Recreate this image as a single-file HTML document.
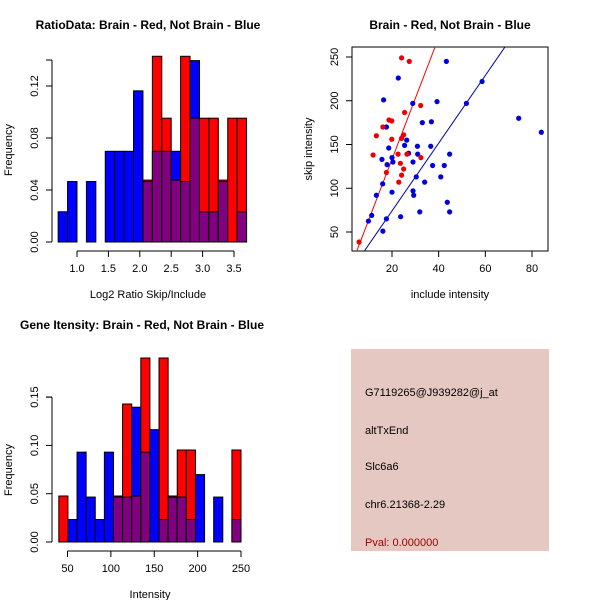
<!DOCTYPE html>
<html><head><meta charset="utf-8"><style>
body{margin:0;background:#fff}
svg{display:block;font-family:"Liberation Sans",Arial,sans-serif}
</style></head><body>
<svg id="s" width="600" height="600" viewBox="0 0 600 600">
<rect width="600" height="600" fill="#fff"/>
<text x="148" y="29" font-size="12" font-weight="bold" text-anchor="middle">RatioData: Brain - Red, Not Brain - Blue</text>
<text x="450" y="29" font-size="12" font-weight="bold" text-anchor="middle">Brain - Red, Not Brain - Blue</text>
<text x="142" y="329" font-size="12" font-weight="bold" text-anchor="middle">Gene Itensity: Brain - Red, Not Brain - Blue</text>
<g id="g1"></g>
<g id="g2"></g>
<g id="g3"></g>
<g>
<rect x="351" y="349" width="198" height="202" fill="#e6c8c2"/>
<text x="365" y="396" font-size="11">G7119265@J939282@j_at</text>
<text x="365" y="434" font-size="11">altTxEnd</text>
<text x="365" y="470" font-size="11">Slc6a6</text>
<text x="365" y="508" font-size="11">chr6.21368-2.29</text>
<text x="365" y="546" font-size="11" fill="#a00000">Pval: 0.000000</text>
</g>
</svg>
<script>
// ratio histogram data (counts)
const ratioBinStart = 0.70, ratioBinWidth = 0.15;
const ratioBlue = [1,2,0,2,0,3,3,3,5,2,3,3,3,2,6,1,1,2,0,1];
const ratioRed  = [0,0,0,0,0,0,0,0,0,1,3,2,1,3,2,2,2,1,2,2];
const ratioXTicks = [1.0,1.5,2.0,2.5,3.0,3.5];
const ratioYTicks = [0,0.04,0.08,0.12];
// intensity histogram data (counts)
const intBinStart = 40, intBinWidth = 10.5;
const intBlue = [0,1,4,2,1,4,2,2,6,4,5,1,2,2,1,3,0,2,0,1];
const intRed  = [1,0,0,0,0,0,1,3,1,4,0,4,1,2,2,0,0,0,0,2];
const intXTicks = [50,100,150,200,250];
const intYTicks = [0,0.05,0.10,0.15];
// scatter data
const redX = [24.1,27.4,32.3,25.4,19.9,18.7,16.1,13.3,19.9,24.1,25,11.9,22.6,26.4,32.4,23.6,25,17.6,24.1,22.9,5.9];
const redY = [249,245,194.6,186.6,177,178,170,160,156,157,161,138,139,139,135,128.5,122,118,115,107,38.6];
const blueX = [22.7,43.3,58.6,51.9,28.9,39.3,16.4,17.6,74.3,84,33,36.9,26.3,25.4,30.9,36.6,18.6,15.7,20,27.1,31,44.7,20.4,29,17.9,37.4,42.4,30.4,40.9,34,16,13.3,20,29,29.3,43.7,31.9,44.7,11.3,23.7,9.9,17.6,16.1];
const blueY = [226,245,222,197,197,199,201,170,180,164,175,176,155,149,148,148,146,133,135,140,139,139,130,130,127,126,126,113,113,107,105,92,95.5,97,92,84,73,73,69,67.5,62.5,65,51];
const redFit = [-5.8,6.95];
const blueFit = [-3.3,3.87];
const scXTicks = [20,40,60,80];
const scYTicks = [50,100,150,200,250];

const NS="http://www.w3.org/2000/svg";
function mk(p,tag,a){const e=document.createElementNS(NS,tag);for(const k in a)e.setAttribute(k,a[k]);p.appendChild(e);return e;}
function fmt(v,d){return v.toFixed(d);}

function hist(g,o){
  const sx=v=>o.x0+(v-o.v0)*o.kx, sy=v=>o.y0-v*o.ky;
  const nb=o.blue.length, tb=o.blue.reduce((a,b)=>a+b,0), tr=o.red.reduce((a,b)=>a+b,0);
  for(let i=0;i<nb;i++){
    const a=o.start+i*o.w,b=a+o.w, x1=sx(a), x2=sx(b);
    const fb=o.blue[i]/tb, fr=o.red[i]/tr;
    const bars=[];
    if(fb>0)bars.push([fb,'#0000ff','blue']);
    if(fr>0)bars.push([fr,'#ff0000','red']);
    bars.sort((p,q)=>q[0]-p[0]);
    if(bars.length==2)bars[1]=[bars[1][0],'#800080','overlap'];
    for(const bb of bars){
      const r=mk(g,'rect',{x:x1,y:sy(bb[0]),width:x2-x1,height:sy(0)-sy(bb[0]),fill:bb[1],stroke:'#000','stroke-width':1});
      
      
    }
  }
  const xt=o.xt;
  mk(g,'line',{x1:sx(xt[0]),x2:sx(xt[xt.length-1]),y1:o.xa,y2:o.xa,stroke:'#000'});
  xt.forEach(t=>{mk(g,'line',{x1:sx(t),x2:sx(t),y1:o.xa,y2:o.xa+6,stroke:'#000'});
    const tx=mk(g,'text',{x:sx(t),y:o.xa+21,'font-size':11,'text-anchor':'middle'});tx.textContent=fmt(t,o.xd);
    });
  const yt=o.yt;
  mk(g,'line',{x1:o.ya,x2:o.ya,y1:sy(yt[0]),y2:sy(o.ymax),stroke:'#000'});
  [...yt,o.ymax].forEach(t=>mk(g,'line',{x1:o.ya-6,x2:o.ya,y1:sy(t),y2:sy(t),stroke:'#000'}));
  yt.forEach(t=>{const tx=mk(g,'text',{x:0,y:0,'font-size':11,'text-anchor':'middle',transform:`translate(${o.ya-14},${sy(t)}) rotate(-90)`});tx.textContent=fmt(t,2);
    });
  const xl=mk(g,'text',{x:o.xlx,y:o.xa+47,'font-size':11,'text-anchor':'middle'});xl.textContent=o.xl;
  
  const yl=mk(g,'text',{x:0,y:0,'font-size':11,'text-anchor':'middle',transform:`translate(12,${o.ylc}) rotate(-90)`});yl.textContent='Frequency';
  
}
hist(document.getElementById('g1'),{blue:ratioBlue,red:ratioRed,start:ratioBinStart,w:ratioBinWidth,v0:1.0,x0:77,kx:62.8,y0:242,ky:1300,
  xt:ratioXTicks,xd:1,yt:ratioYTicks,ymax:0.14,xa:251,ya:52,xl:'Log2 Ratio Skip/Include',xlx:148,ylc:150});
hist(document.getElementById('g2'),{blue:intBlue,red:intRed,start:intBinStart,w:intBinWidth,v0:50,x0:67.5,kx:0.8675,y0:542,ky:966,
  xt:intXTicks,xd:0,yt:intYTicks,ymax:0.15,xa:551,ya:52,xl:'Intensity',xlx:150,ylc:470});

(function(){
  const g=document.getElementById('g3');
  const L=352,R=548,T=47,B=251;
  const sx=v=>392+(v-20)*2.3333, sy=v=>232-(v-50)*0.875;
  mk(g,'defs',{}).innerHTML='<clipPath id="cp"><rect x="352" y="47" width="196" height="204"/></clipPath>';
  const fr=mk(g,'rect',{x:L,y:T,width:R-L,height:B-T,fill:'none',stroke:'#000'});
  
  const x0=0,x1=90;
  [[redFit,'#ff0000','red'],[blueFit,'#0000aa','blue']].forEach(f=>{
    const l=mk(g,'line',{x1:sx(x0),y1:sy(f[0][0]+f[0][1]*x0),x2:sx(x1),y2:sy(f[0][0]+f[0][1]*x1),stroke:f[1],'clip-path':'url(#cp)'});
    
  });
  blueX.forEach((v,i)=>{const c=mk(g,'circle',{cx:sx(v),cy:sy(blueY[i]),r:2.6,fill:'#0000dd'});
    });
  redX.forEach((v,i)=>{const c=mk(g,'circle',{cx:sx(v),cy:sy(redY[i]),r:2.6,fill:'#ee0000'});
    });
  scXTicks.forEach(t=>{mk(g,'line',{x1:sx(t),x2:sx(t),y1:B,y2:B+6,stroke:'#000'});
    const tx=mk(g,'text',{x:sx(t),y:B+21,'font-size':11,'text-anchor':'middle'});tx.textContent=t;
    });
  scYTicks.forEach(t=>{mk(g,'line',{x1:L-6,x2:L,y1:sy(t),y2:sy(t),stroke:'#000'});
    const tx=mk(g,'text',{x:0,y:0,'font-size':11,'text-anchor':'middle',transform:`translate(${L-14},${sy(t)}) rotate(-90)`});tx.textContent=t;
    });
  const xl=mk(g,'text',{x:450,y:298,'font-size':11,'text-anchor':'middle'});xl.textContent='include intensity';
  
  const yl=mk(g,'text',{x:0,y:0,'font-size':11,'text-anchor':'middle',transform:'translate(312,149) rotate(-90)'});yl.textContent='skip intensity';
  
})();
</script>
</body></html>
